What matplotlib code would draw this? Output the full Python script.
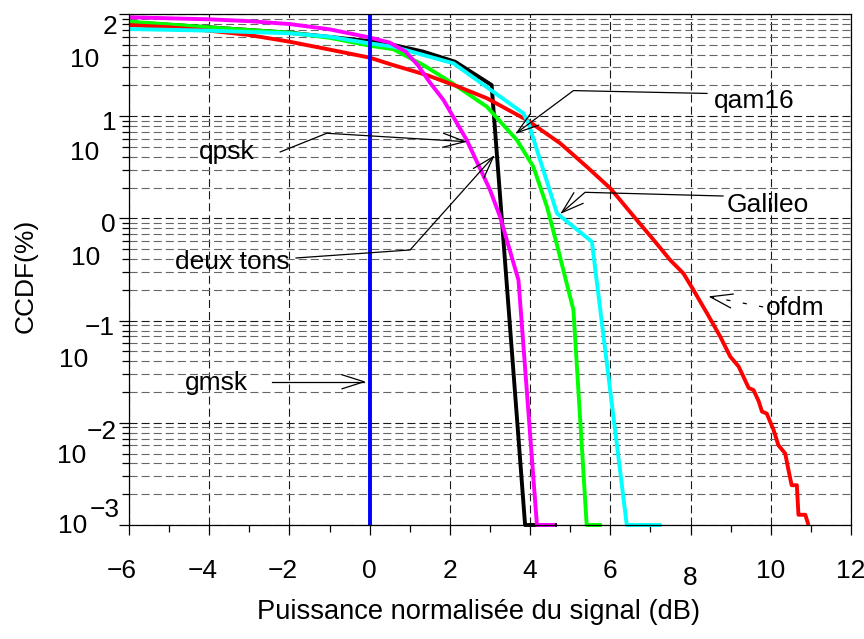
import matplotlib
matplotlib.use("Agg")
import matplotlib.pyplot as plt
from matplotlib import transforms
from matplotlib.ticker import LogLocator, NullFormatter
import numpy as np

plt.rcParams['font.family'] = ['Liberation Sans', 'DejaVu Sans']
plt.rcParams['lines.scale_dashes'] = False

# CCDF curves (percent) versus normalised signal power (dB)
qpsk_x = [-6, -4, -3, -2, -1, 0, 0.5, 0.9, 1.2, 1.5, 1.84, 2.42, 3.0, 3.25, 3.71, 4.17, 4.62]
qpsk_y = [92.9, 88.7, 85.1, 79.8, 70.8, 58.9, 52.5, 42.7, 31.6, 21.4, 14.4, 5.85, 1.90, 1.04, 0.249, 0.001, 0.001]

deux_tons_x = [-6, -4, -2, 0, 0.59, 1.34, 2.13, 3.04, 3.875, 4.67]
deux_tons_y = [83.2, 74.1, 65.6, 54.3, 49.8, 42.8, 34.1, 20.2, 0.001, 0.001]

qam16_x = [-6, -4, -2, -1, 0, 0.59, 1.34, 2.0, 2.92, 3.67, 4.08, 4.42, 4.66, 5.08, 5.41, 5.79]
qam16_y = [84.1, 74.1, 65.6, 58.5, 49.0, 45.2, 31.6, 21.8, 12.4, 5.85, 3.21, 1.30, 0.570, 0.127, 0.001, 0.001]

galileo_x = [-6, -4, -2, -1, 0, 0.59, 2.09, 3.83, 3.96, 4.67, 5.54, 6.41, 7.28]
galileo_y = [71.3, 68.7, 64.7, 60.0, 51.6, 47.9, 32.9, 10.7, 8.51, 1.12, 0.592, 0.001, 0.001]

ofdm_x = [-6, -5.02, -4, -3.02, -2, -1.03, 0, 0.59, 1.42, 2.17, 2.92, 3.92, 4.75, 5.41,
          6.0, 6.66, 7.08, 7.49, 7.82, 8.07, 8.41, 8.74, 8.99, 9.20, 9.45,
          9.57, 9.70, 9.78, 9.90, 10.07, 10.19, 10.36, 10.44, 10.52, 10.65, 10.69, 10.86, 10.94]
ofdm_y = [78.0, 74.2, 68.7, 62.4, 53.6, 45.1, 37.4, 31.6, 25.3, 19.7, 15.0, 9.18, 5.43, 3.21,
          1.97, 0.964, 0.615, 0.392, 0.290, 0.200, 0.118, 0.0697, 0.0444, 0.0355, 0.0219,
          0.0209, 0.0162, 0.0129, 0.0123, 0.00851, 0.00603, 0.00501, 0.00347, 0.00245, 0.00245,
          0.00126, 0.00126, 0.001]

gmsk_x = [0, 0]
gmsk_y = [100, 0.001]

x_ticks = [-6, -4, -2, 0, 2, 4, 6, 8, 10, 12]
x_minor = [-5, -3, -1, 1, 3, 5, 7, 9, 11]
decades = [2, 1, 0, -1, -2, -3]

# callouts: label, text centre, polyline from the text to the arrow tip
callouts = [
    ("qam16",     (9.59, 14.1),    [(8.41, 16.7), (5.08, 17.8), (3.67, 6.9)], False),
    ("qpsk",      (-3.56, 4.47),   [(-2.23, 4.47), (-1.07, 6.81), (2.38, 5.64)], False),
    ("deux tons", (-3.43, 0.377),  [(-1.835, 0.410), (1.007, 0.491), (3.085, 4.02)], False),
    ("Galileo",   (9.93, 1.35),    [(8.81, 1.656), (5.37, 1.80), (4.79, 1.14)], False),
    ("ofdm",      (10.61, 0.134),  [(9.81, 0.136), (8.49, 0.171)], True),
    ("gmsk",      (-3.81, 0.0245), [(-2.43, 0.0252), (-0.14, 0.0252)], False),
]

FS = 19
W, H = 864, 639
fig = plt.figure(figsize=(W / 100, H / 100), dpi=100)
ax = fig.add_axes([129 / W, 1 - 525 / H, 722 / W, 511 / H])

ax.set_yscale('log')
ax.set_xlim(-6, 12)
ax.set_ylim(1e-3, 1e2)
ax.autoscale(False)

ax.set_xticks(x_ticks)
ax.set_xticks(x_minor, minor=True)
ax.yaxis.set_major_locator(LogLocator(base=10, numticks=10))
ax.yaxis.set_minor_locator(LogLocator(base=10, subs=np.arange(2, 10), numticks=20))
ax.yaxis.set_minor_formatter(NullFormatter())
ax.tick_params(labelbottom=False, labelleft=False)
ax.tick_params(which='major', direction='out', length=7, width=0.9)
ax.tick_params(which='minor', direction='out', length=5, width=0.9)
for s in ax.spines.values():
    s.set_linewidth(0.9)

dash = (0, (5.8, 2.9))
ax.grid(True, which='major', axis='both', ls=dash, color='0.1', lw=0.8)
ax.grid(True, which='minor', axis='y', ls=dash, color='0.4', lw=0.8)

lw = 2.8
common = dict(lw=lw, clip_on=False, solid_capstyle='butt', solid_joinstyle='round')
ax.plot(deux_tons_x, deux_tons_y, color='black', **common)
ax.plot(qam16_x, qam16_y, color=(0, 1, 0), **common)
ax.plot(ofdm_x, ofdm_y, color=(1, 0, 0), **common)
ax.plot(galileo_x, galileo_y, color=(0, 1, 1), **common)
ax.plot(qpsk_x, qpsk_y, color=(1, 0, 1), **common)
ax.plot(gmsk_x, gmsk_y, color=(0, 0, 1), **common)


def arrow_head(tip, tail, length=22, half_width=7):
    T = ax.transData
    p = T.transform(tip)
    q = T.transform(tail)
    u = (p - q) / np.hypot(*(p - q))
    n = np.array([-u[1], u[0]])
    base = p - length * u
    pts = np.array([base + half_width * n, p, base - half_width * n])
    d = T.inverted().transform(pts)
    ax.plot(d[:, 0], d[:, 1], color='black', lw=0.9, clip_on=False)


for label, (tx, ty), path, dashed in callouts:
    xs = [p[0] for p in path]
    ys = [p[1] for p in path]
    ax.plot(xs, ys, color='black', lw=0.9, ls=(0, (3, 9)) if dashed else '-',
            clip_on=False)
    arrow_head(path[-1], path[-2])
    ax.text(tx, ty, label, ha='center', va='center', fontsize=FS)

# y tick labels in the "10 / exponent" staggered style
exp_right = {2: -12, 1: -12, 0: -13, -1: -14, -2: -12, -3: -9}
exp_down = {2: 13, 1: 7, 0: 7, -1: 7, -2: 9, -3: -15}
ten_right = {2: -30, 1: -30, 0: -29, -1: -41, -2: -43, -3: -42}
ten_down = {2: 46, 1: 37, 0: 40, -1: 39, -2: 33, -3: 1}
ytr = ax.get_yaxis_transform()
for e in decades:
    ex = str(e).replace('-', '\u2212')
    t1 = transforms.offset_copy(ytr, fig=fig, x=exp_right[e], y=-exp_down[e], units='dots')
    t2 = transforms.offset_copy(ytr, fig=fig, x=ten_right[e], y=-ten_down[e], units='dots')
    ax.text(0, 10.0 ** e, ex, transform=t1, ha='right', va='center', fontsize=FS, clip_on=False)
    ax.text(0, 10.0 ** e, '10', transform=t2, ha='right', va='center', fontsize=FS, clip_on=False)

# x tick labels (minus sign hangs to the left of the digit)
xtr = ax.get_xaxis_transform()
for v in x_ticks:
    s = str(v).replace('-', '\u2212')
    dx = -7 if v < 0 else 0
    dy = -46 - (7 if v == 8 else 0)
    t = transforms.offset_copy(xtr, fig=fig, x=dx, y=dy, units='dots')
    ax.text(v, 0, s, transform=t, ha='center', va='center', fontsize=FS, clip_on=False)

ax.set_xlabel('Puissance normalisée du signal (dB)', fontsize=19.6)
ax.xaxis.set_label_coords((479 - 129) / 722, -(612 - 525) / 511)
ax.xaxis.label.set_va('center')
ax.set_ylabel('CCDF(%)', fontsize=FS)
ax.yaxis.set_label_coords((26 - 129) / 722, (525 - 276) / 511)
ax.yaxis.label.set_va('center')
ax.yaxis.label.set_ha('center')

fig.savefig('out.png', dpi=100)
